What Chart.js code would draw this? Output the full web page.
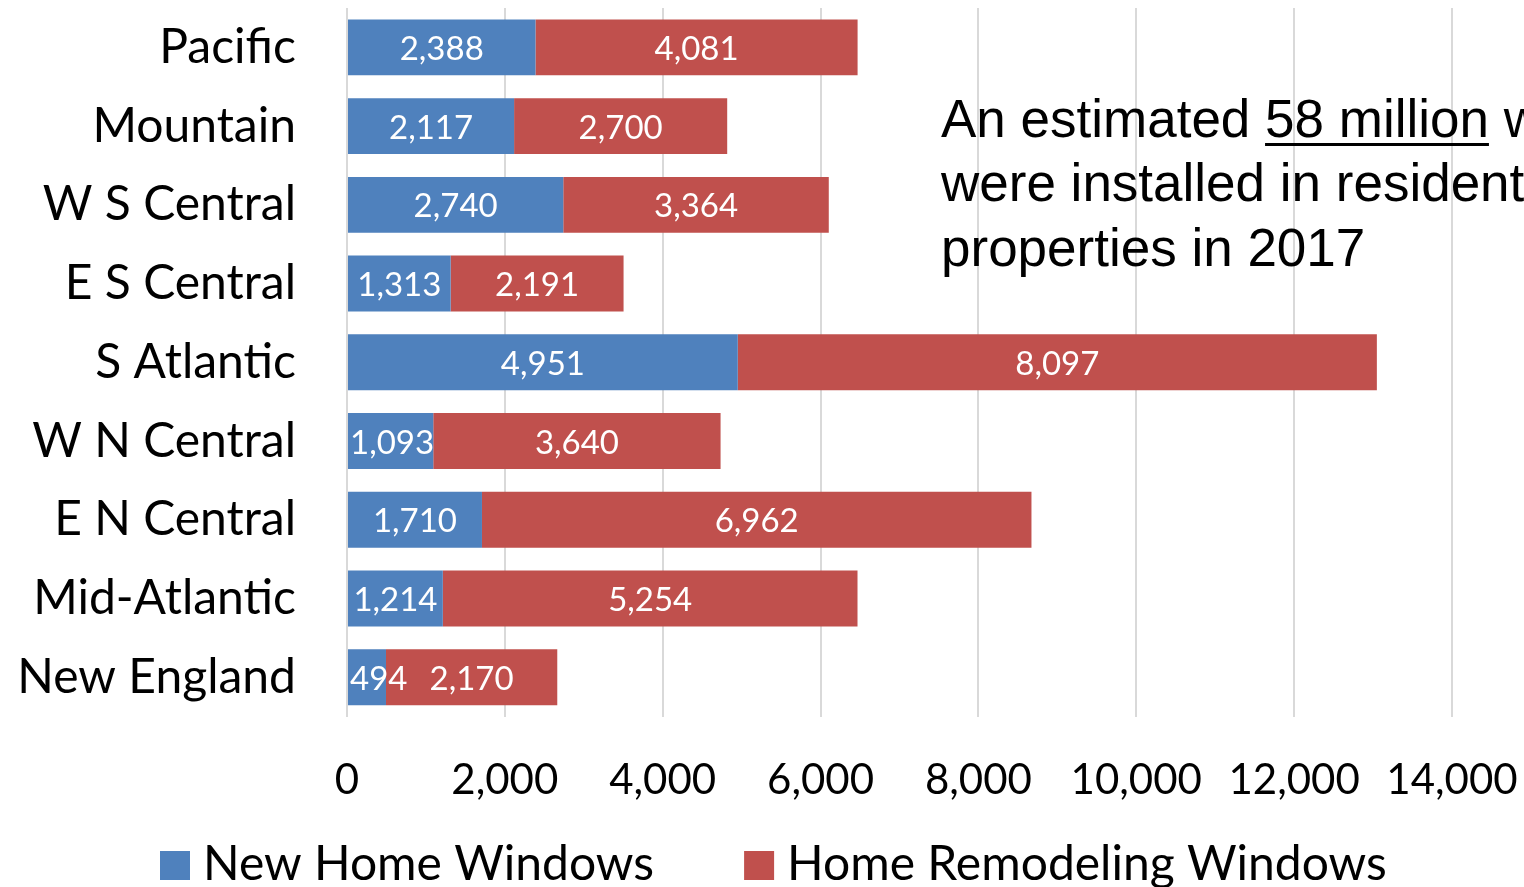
<!DOCTYPE html>
<html lang="en">
<head>
    <meta charset="UTF-8">
    <title>Windows Installed by Region</title>
    <script src="https://cdn.jsdelivr.net/npm/chart.js"></script>
    <style>
        html, body {
            margin: 0;
            padding: 0;
            background: #ffffff;
        }
        #wrap {
            width: 1524px;
            height: 887px;
        }
    </style>
</head>
<body>
    <div id="wrap"><canvas id="windowsChart"></canvas></div>

    <script>
        // regions, top to bottom
        const regions = ['Pacific', 'Mountain', 'W S Central', 'E S Central', 'S Atlantic',
                         'W N Central', 'E N Central', 'Mid-Atlantic', 'New England'];
        // thousands of windows
        const newHomeWindows = [2388, 2117, 2740, 1313, 4951, 1093, 1710, 1214, 494];
        const remodelWindows = [4081, 2700, 3364, 2191, 8097, 3640, 6962, 5254, 2170];
        const seriesNames = ['New Home Windows', 'Home Remodeling Windows'];
        const seriesColors = ['#4F81BD', '#C0504D'];
        const axisMax = 14000;
        const axisStep = 2000;

        const calibriLike = "Lato, 'Open Sans', sans-serif";

        // white value labels in the middle of each segment
        const segmentLabels = {
            id: 'segmentLabels',
            afterDatasetsDraw(chart) {
                const ctx = chart.ctx;
                const left = chart.chartArea.left;
                ctx.save();
                ctx.fillStyle = '#ffffff';
                ctx.font = '33px ' + calibriLike;
                ctx.textAlign = 'center';
                ctx.textBaseline = 'middle';
                chart.data.datasets.forEach((ds, i) => {
                    chart.getDatasetMeta(i).data.forEach((bar, j) => {
                        const txt = ds.data[j].toLocaleString('en-US');
                        const half = ctx.measureText(txt).width / 2;
                        // keep short-bar labels from running off the left edge
                        const cx = Math.max((bar.x + bar.base) / 2, left + half + 3);
                        ctx.fillText(txt, cx, bar.y + 2);
                    });
                });
                ctx.restore();
            }
        };

        // legend row under the axis (built-in legend can't space items like this)
        const bottomLegend = {
            id: 'bottomLegend',
            afterDraw(chart) {
                const ctx = chart.ctx;
                ctx.save();
                ctx.font = '48px ' + calibriLike;
                ctx.textBaseline = 'alphabetic';
                ctx.textAlign = 'left';
                const baseline = chart.height - 7;
                let x = 160;
                chart.data.datasets.forEach(ds => {
                    ctx.fillStyle = ds.backgroundColor;
                    ctx.fillRect(x, baseline - 29, 30, 29);
                    ctx.fillStyle = '#000000';
                    ctx.fillText(ds.label, x + 43, baseline);
                    x += 43 + ctx.measureText(ds.label).width + 90;
                });
                ctx.restore();
            }
        };

        // text box laid over the chart
        const noteBox = {
            id: 'noteBox',
            afterDraw(chart) {
                const ctx = chart.ctx;
                const area = chart.chartArea;
                const x = area.left + 594;
                const y = area.top + 129;
                ctx.save();
                ctx.fillStyle = '#000000';
                ctx.font = "53px 'Liberation Sans', Arial, sans-serif";
                ctx.textAlign = 'left';
                ctx.textBaseline = 'alphabetic';
                const pre = 'An estimated ';
                const under = '58 million';
                ctx.fillText(pre + under + ' windows', x, y);
                const ux = x + ctx.measureText(pre).width;
                const uw = ctx.measureText(under).width;
                ctx.fillRect(ux, y + 6, uw, 3);
                ctx.fillText('were installed in residential', x, y + 64);
                ctx.fillText('properties in 2017', x, y + 129);
                ctx.restore();
            }
        };

        new Chart(document.getElementById('windowsChart'), {
            type: 'bar',
            data: {
                labels: regions,
                datasets: [
                    { label: seriesNames[0], data: newHomeWindows, backgroundColor: seriesColors[0] },
                    { label: seriesNames[1], data: remodelWindows, backgroundColor: seriesColors[1] }
                ]
            },
            options: {
                indexAxis: 'y',
                responsive: true,
                maintainAspectRatio: false,
                animation: false,
                layout: { padding: { top: 8, right: 72, left: 0, bottom: 42 } },
                datasets: { bar: { categoryPercentage: 1, barPercentage: 0.71, borderWidth: 0 } },
                scales: {
                    x: {
                        stacked: true,
                        min: 0,
                        max: axisMax,
                        border: { display: false },
                        grid: { color: '#d9d9d9', lineWidth: 2, drawTicks: false },
                        ticks: {
                            stepSize: axisStep,
                            color: '#000000',
                            padding: 39,
                            maxRotation: 0,
                            font: { family: calibriLike, size: 42 },
                            callback: v => v.toLocaleString('en-US')
                        },
                        afterFit(scale) {
                            scale.paddingLeft = 0;
                            scale.paddingRight = 0;
                        }
                    },
                    y: {
                        stacked: true,
                        border: { display: false },
                        grid: { display: false, drawTicks: false },
                        ticks: {
                            color: '#000000',
                            padding: 51,
                            font: { family: calibriLike, size: 48 }
                        },
                        afterFit(scale) {
                            scale.width = 347;
                            scale.paddingTop = 0;
                            scale.paddingBottom = 0;
                        }
                    }
                },
                plugins: {
                    legend: { display: false },
                    tooltip: { enabled: false }
                }
            },
            plugins: [segmentLabels, bottomLegend, noteBox]
        });
    </script>
</body>
</html>
